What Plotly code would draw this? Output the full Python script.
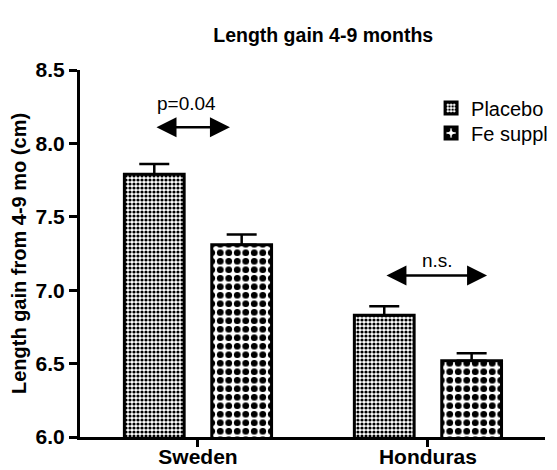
import plotly.graph_objects as go

categories = ["Sweden", "Honduras"]
placebo_mean = [7.79, 6.83]
placebo_sem = [0.07, 0.06]
fe_mean = [7.31, 6.52]
fe_sem = [0.07, 0.05]
y_ticks = [6.0, 6.5, 7.0, 7.5, 8.0, 8.5]

FONT = "Liberation Sans, Arial, sans-serif"

fig = go.Figure()
fig.add_trace(go.Bar(
    x=categories, y=placebo_mean, name="Placebo", legend="legend",
    marker=dict(color="white", line=dict(color="black", width=3),
                pattern=dict(shape=".", fgcolor="black", bgcolor="white",
                             size=4, solidity=0.5, fillmode="replace")),
    error_y=dict(type="data", array=placebo_sem, arrayminus=[0, 0], symmetric=False,
                 color="black", thickness=2.5, width=15),
))
fig.add_trace(go.Bar(
    x=categories, y=fe_mean, name="Fe suppl", legend="legend2",
    marker=dict(color="white", line=dict(color="black", width=3),
                pattern=dict(shape=".", fgcolor="black", bgcolor="white",
                             size=8.5, solidity=0.5, fillmode="replace")),
    error_y=dict(type="data", array=fe_sem, arrayminus=[0, 0], symmetric=False,
                 color="black", thickness=2.5, width=15),
))

# significance annotations
sig = [
    dict(text="p=0.04", x0=-0.187, x1=0.139, y=8.11, tx=-0.048, ty=8.27),
    dict(text="n.s.", x0=0.813, x1=1.257, y=7.10, tx=1.043, ty=7.20),
]
for s in sig:
    fig.add_annotation(x=s["x1"], y=s["y"], ax=s["x0"], ay=s["y"], xref="x", yref="y",
                       axref="x", ayref="y", showarrow=True, arrowhead=2,
                       arrowside="end+start", arrowwidth=2.5, arrowsize=1.6,
                       arrowcolor="black", text="")
    fig.add_annotation(x=s["tx"], y=s["ty"], xref="x", yref="y", text=s["text"],
                       showarrow=False, font=dict(family=FONT, size=19, color="black"))

leg_common = dict(xanchor="left", yanchor="middle",
                  font=dict(family=FONT, size=20, color="black"),
                  bgcolor="rgba(0,0,0,0)", itemwidth=30)
fig.update_layout(
    width=557, height=470,
    margin=dict(l=72, r=20, t=62, b=41),
    paper_bgcolor="white", plot_bgcolor="white",
    barmode="group", bargap=0.24, bargroupgap=0.316,
    title=dict(text="<b>Length gain 4-9 months</b>", x=0.523, xref="paper",
               y=1 - 20 / 470, yref="container", xanchor="center", yanchor="top",
               font=dict(family=FONT, size=19.5, color="black")),
    font=dict(family=FONT, color="black"),
    showlegend=True,
    legend=dict(x=0.755, y=(437 - 108) / 367, **leg_common),
    legend2=dict(x=0.755, y=(437 - 133) / 367, **leg_common),
)
fig.update_xaxes(
    range=[-0.513, 1.509], showline=True, linecolor="black", linewidth=3,
    ticks="outside", ticklen=7, tickwidth=3, tickcolor="black",
    tickfont=dict(family=FONT, size=21, color="black"),
    tickvals=[0, 1], ticktext=["<b>" + c + "</b>" for c in categories],
    ticklabelstandoff=-8,
    showgrid=False, zeroline=False, automargin=False,
)
fig.update_yaxes(
    range=[6.0, 8.5], showline=True, linecolor="black", linewidth=3,
    ticks="outside", ticklen=8, tickwidth=3, tickcolor="black",
    tickvals=y_ticks, ticktext=["<b>%.1f</b>" % v for v in y_ticks],
    tickfont=dict(family=FONT, size=21, color="black"),
    showgrid=False, zeroline=False, automargin=False,
    title=dict(text="<b>Length gain from 4-9 mo (cm)</b>", standoff=8,
               font=dict(family=FONT, size=20, color="black")),
)

fig.write_html("out.html")
